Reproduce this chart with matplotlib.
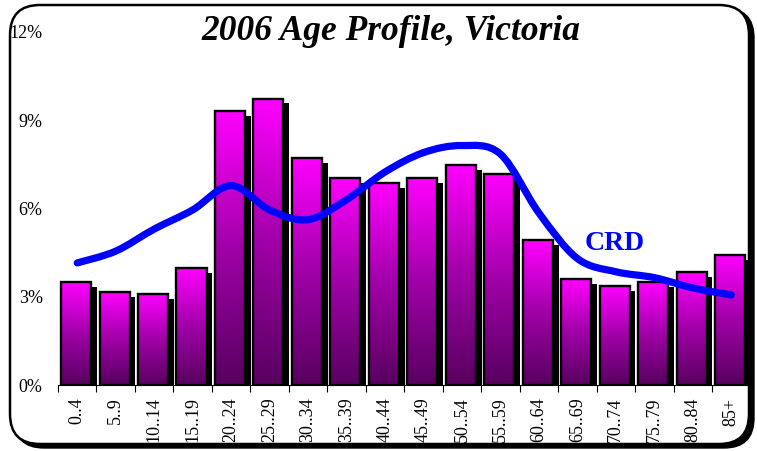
import numpy as np
import matplotlib
matplotlib.use("Agg")
import matplotlib.pyplot as plt
from matplotlib.patches import FancyBboxPatch, Rectangle, PathPatch
from matplotlib.path import Path
from matplotlib.colors import LinearSegmentedColormap
from matplotlib.transforms import IdentityTransform

ages = ["0..4", "5..9", "10..14", "15..19", "20..24", "25..29", "30..34", "35..39",
        "40..44", "45..49", "50..54", "55..59", "60..64", "65..69", "70..74",
        "75..79", "80..84", "85+"]
victoria = [3.50, 3.16, 3.10, 3.98, 9.32, 9.73, 7.72, 7.04, 6.87,
            7.04, 7.48, 7.18, 4.93, 3.61, 3.37, 3.50, 3.84, 4.42]
crd = [4.15, 4.55, 5.30, 5.95, 6.78, 5.95, 5.62, 6.30, 7.24,
       7.90, 8.14, 7.85, 5.85, 4.30, 3.85, 3.65, 3.30, 3.06]
yticks = [0, 3, 6, 9, 12]

serif = "Liberation Serif"

def smooth_path(xs, ys):
    pts = np.column_stack([xs, ys])
    verts = [pts[0]]
    codes = [Path.MOVETO]
    n = len(pts)
    for i in range(n - 1):
        p0 = pts[max(i - 1, 0)]
        p1 = pts[i]
        p2 = pts[i + 1]
        p3 = pts[min(i + 2, n - 1)]
        verts += [p1 + (p2 - p0) / 6, p2 - (p3 - p1) / 6, p2]
        codes += [Path.CURVE4] * 3
    return Path(verts, codes)

def main():
    fig = plt.figure(figsize=(7.57, 4.51), dpi=100)
    W, H = 757, 451

    # rounded frame with shadow (pixel coordinates)
    shadow = FancyBboxPatch((14, 3), 740, 440, boxstyle="round,pad=0,rounding_size=30",
                            transform=IdentityTransform(), facecolor="black",
                            edgecolor="black", zorder=-2)
    frame = FancyBboxPatch((10, 7), 739, 439, boxstyle="round,pad=0,rounding_size=30",
                           transform=IdentityTransform(), facecolor="white",
                           edgecolor="black", linewidth=1.8, zorder=-1)
    fig.patches.extend([shadow, frame])

    ax = fig.add_axes([58 / W, 1 - 385 / H, (750.5 - 58) / W, (385 - 32) / H])
    ax.set_facecolor("none")

    cmap = LinearSegmentedColormap.from_list("mag", ["#58005f", "#a000a8", "#ff00ff"])
    grad = np.linspace(0, 1, 256).reshape(-1, 1)
    bw = 0.78
    for i, v in enumerate(victoria):
        x0 = i + 0.08
        ax.add_patch(Rectangle((x0 + 0.15, 0), bw, v - 0.16, facecolor="black",
                               edgecolor="none", zorder=2))
        rect = Rectangle((x0, 0), bw, v, facecolor="none", edgecolor="black",
                         linewidth=1.7, zorder=4)
        ax.add_patch(rect)
        im = ax.imshow(grad, cmap=cmap, aspect="auto", origin="lower",
                       extent=(x0, x0 + bw, 0, v), zorder=3)
        im.set_clip_path(rect)

    xs = np.arange(len(ages)) + 0.5
    ax.add_patch(PathPatch(smooth_path(xs, np.array(crd)), facecolor="none",
                           edgecolor="#0000ff", linewidth=5.2, capstyle="round",
                           zorder=5))
    ax.set_xlim(0, len(ages))
    ax.set_ylim(0, 12)

    ax.text(14.47, 4.8, "CRD", color="#0000ff", fontsize=20, fontweight="bold",
            family=serif, ha="center", va="center", zorder=6)

    ax.set_yticks(yticks)
    ax.set_yticklabels([f"{t}%" for t in yticks], family=serif, fontsize=13)
    ax.tick_params(axis="y", length=0, pad=11)
    ax.set_xticks(np.arange(len(ages) + 1), minor=False)
    ax.set_xticklabels([])
    ax.set_xticks(xs, minor=True)
    ax.set_xticklabels(ages, minor=True, rotation=90, family=serif, fontsize=13)
    ax.tick_params(axis="x", which="major", length=5, width=0.8, direction="out")
    ax.tick_params(axis="x", which="minor", length=0, pad=9)
    for s in ["top", "right", "left"]:
        ax.spines[s].set_visible(False)
    ax.spines["bottom"].set_linewidth(0.8)

    fig.text(391 / W, 1 - 31 / H, "2006 Age Profile, Victoria", family=serif,
             fontsize=25.5, fontweight="bold", style="italic", ha="center", va="center")

    fig.savefig("out.png", dpi=100)

if __name__ == "__main__":
    main()
